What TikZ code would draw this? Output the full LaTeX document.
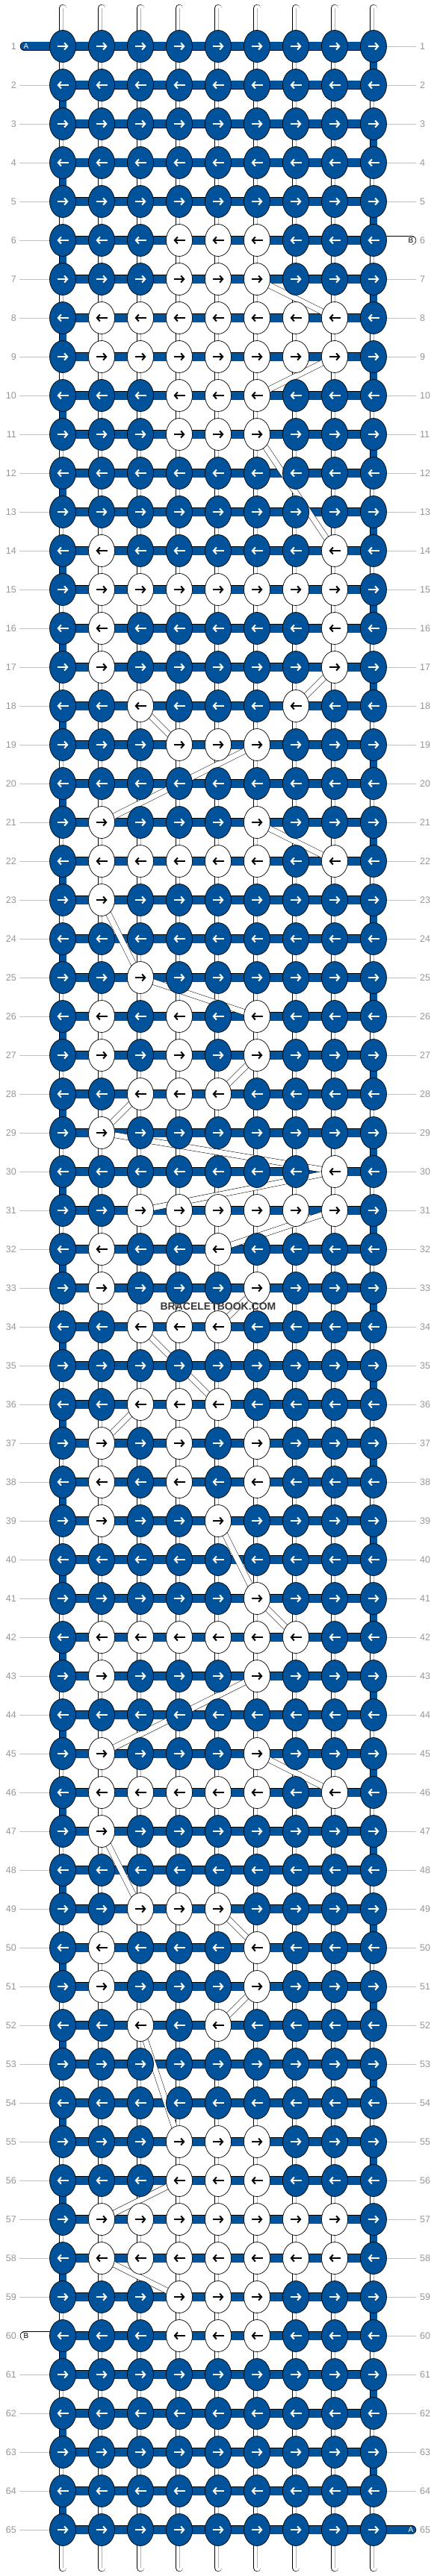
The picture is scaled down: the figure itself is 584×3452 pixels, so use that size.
\documentclass[tikz,border=0pt]{standalone}
\usepackage{fontspec}
\setmainfont{Liberation Sans}
\usetikzlibrary{shapes.geometric,arrows.meta,backgrounds}
\definecolor{kblue}{RGB}{0,82,155}
\definecolor{numgray}{RGB}{150,150,150}
\tikzset{
    %Define style for knots
    darkknot/.style={
           ellipse,
           draw=black, line width=0.7pt,
           fill=kblue,
           minimum width=35pt,
           minimum height=43pt,
           inner sep=0pt,
           },
    lightknot/.style={darkknot, fill=white},
    %Define style for threads
    hbar/.style={draw=black, line width=0.7pt, double=kblue, double distance=11pt},
    vbar/.style={draw=black, line width=0.7pt, double=kblue, double distance=9pt},
    vthread/.style={draw=black, line width=0.7pt, double=white, double distance=9pt},
    vmid/.style={draw=black!30, line width=0.6pt},
    wtag/.style={draw=black, line width=0.7pt, double=white, double distance=11pt, line cap=round},
    btag/.style={hbar, line cap=round},
    bstrand/.style={draw=black, line width=0.5pt, double=white, double distance=7pt},
    rowline/.style={draw=black!25, line width=0.7pt},
    rowno/.style={text=numgray, font=\fontsize{12.5}{12.5}\selectfont, inner sep=0pt},
    tagtext/.style={font=\fontsize{10}{10}\selectfont, inner sep=0pt},
    % Define arrow style
    darrow/.style={-{Straight Barb[length=4pt,width=9pt]}, line width=2pt, white},
    larrow/.style={darrow, black},
}

\begin{document}
\begin{tikzpicture}[x=1pt,y=-1pt]
\useasboundingbox (0,0) rectangle (584,3452);
% light knots per row
\foreach \r/\cs in {6/{4,5,6},7/{4,5,6},8/{2,...,8},9/{2,...,8},10/{4,5,6},11/{4,5,6},
    14/{2,8},15/{2,...,8},16/{2,8},17/{2,8},18/{3,7},19/{4,5,6},
    21/{2,6},22/{2,3,4,5,6,8},23/{2},25/{3},26/{2,4,6},27/{2,4,6},28/{3,4,5},29/{2},
    30/{8},31/{3,...,8},32/{2,5},33/{2,6},34/{3,4,5},36/{3,4,5},37/{2,4,6},38/{2,4,6},39/{2,5},
    41/{6},42/{2,...,7},43/{2,6},45/{2,6},46/{2,3,4,5,6,8},47/{2},
    49/{3,4,5},50/{2,6},51/{2,6},52/{3,5},
    55/{4,5,6},56/{4,5,6},57/{2,...,8},58/{2,...,8},59/{4,5,6},60/{4,5,6}}
  {\foreach \c in \cs {\expandafter\gdef\csname wk\r-\c\endcsname{}}}

% knots
\foreach \r in {1,...,65}{
  \foreach \c in {1,...,9}{
    \ifcsname wk\r-\c\endcsname \def\ks{lightknot}\def\as{larrow}\else\def\ks{darkknot}\def\as{darrow}\fi
    \node[\ks] (k-\r-\c) at ({84+52*(\c-1)},{62+52*(\r-1)}) {};
    \ifodd\r\relax
      \draw[\as] ([xshift=-7.5pt]k-\r-\c.center) -- ([xshift=7.5pt]k-\r-\c.center);
    \else
      \draw[\as] ([xshift=7.5pt]k-\r-\c.center) -- ([xshift=-7.5pt]k-\r-\c.center);
    \fi
  }
  \node[rowno, anchor=east] (ln-\r) at (22,{62+52*(\r-1)}) {\r};
  \node[rowno, anchor=west] (rn-\r) at (562,{62+52*(\r-1)}) {\r};
}

\node[font=\bfseries\fontsize{14}{14}\selectfont, text=black!78, inner sep=0pt] (wm) at (292,1751) {BRACELETBOOK.COM};

\begin{pgfonlayer}{background}
% row guide lines
\foreach \r in {2,...,59,61,62,63,64,65}
  \draw[rowline] ([xshift=4pt]ln-\r.east) -- (k-\r-1.center);
\foreach \r in {1,...,5,7,8,...,64}
  \draw[rowline] (k-\r-9.center) -- ([xshift=-5pt]rn-\r.west);

% warp threads
\foreach \c in {1,...,9}{
  \coordinate (top-\c) at ({84+52*(\c-1)},11);
  \coordinate (bot-\c) at ({84+52*(\c-1)},3441);
  \draw[vthread, line cap=round] (top-\c) -- (k-1-\c.center);
  \draw[vmid] (top-\c) -- (k-1-\c.center);
  \draw[vthread, line cap=round] (bot-\c) -- (k-65-\c.center);
  \draw[vmid] (bot-\c) -- (k-65-\c.center);
}
\foreach \r [evaluate=\r as \s using int(\r+1)] in {1,...,64}{
  \ifodd\r\relax \def\bc{9}\else\def\bc{1}\fi
  \foreach \c in {1,...,9}{
    \ifnum\c=\bc\relax
      \draw[vbar] (k-\r-\c.center) -- (k-\s-\c.center);
    \else
      \draw[vthread] (k-\r-\c.center) -- (k-\s-\c.center);
      \draw[vmid] (k-\r-\c.center) -- (k-\s-\c.center);
    \fi
  }
}

% knotting thread
\foreach \r in {1,...,65}{
  \foreach \c/\cn in {1/2,2/3,3/4,4/5,5/6,6/7,7/8,8/9}{
    \draw[hbar] (k-\r-\c.center) -- (k-\r-\cn.center);
  }
}

% carried thread B
\foreach \ra/\ca/\rb/\cb in {7/6/8/8,9/8/10/6,11/6/14/8,17/8/18/7,18/3/19/4,19/6/21/2,
    21/6/22/8,23/2/25/3,25/3/26/6,27/6/28/5,28/3/29/2,29/2/30/8,30/8/31/3,31/8/32/5,
    33/6/34/5,34/3/36/5,36/3/37/2,39/5/41/6,41/6/42/7,43/6/45/2,45/6/46/8,
    47/2/49/3,49/5/50/6,51/6/52/5,52/3/55/4,56/4/57/2,58/2/59/4}
  \draw[bstrand] (k-\ra-\ca.center) -- (k-\rb-\cb.center);

% thread ends
\coordinate (endA1) at (33,62);
\coordinate (endB6) at (551,322);
\coordinate (endB60) at (33,3130);
\coordinate (endA65) at (551,3390);
\draw[btag] (endA1) -- (k-1-1.center);
\draw[wtag] (k-6-9.center) -- (endB6);
\draw[wtag] (endB60) -- (k-60-1.center);
\draw[btag] (k-65-9.center) -- (endA65);
\end{pgfonlayer}

\node[tagtext, text=white] at (endA1) [xshift=2pt] {A};
\node[tagtext] at (endB6) [xshift=-1pt] {B};
\node[tagtext] at (endB60) [xshift=2pt] {B};
\node[tagtext, text=white] at (endA65) [xshift=-1pt] {A};
\end{tikzpicture}
\end{document}
